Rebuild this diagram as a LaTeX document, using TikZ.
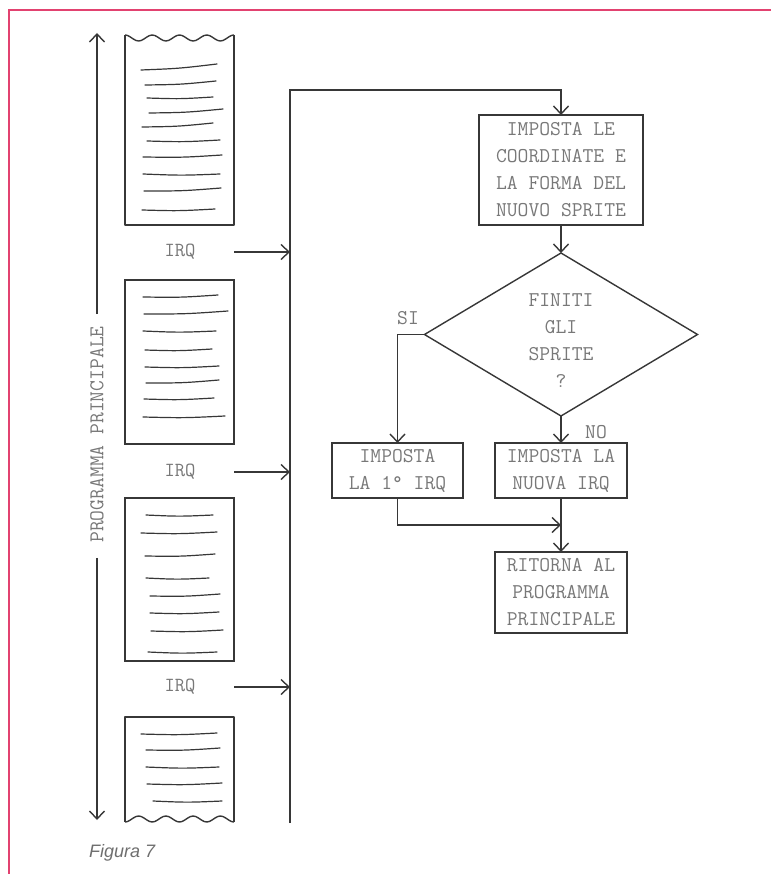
\documentclass[tikz,border=0pt]{standalone}
\usepackage{fontspec}
\usetikzlibrary{arrows.meta,shapes.geometric,calc}
\newfontfamily\capfont{Liberation Sans}
\definecolor{inkgray}{RGB}{55,55,55}
\definecolor{txtgray}{RGB}{120,120,120}
\definecolor{framered}{RGB}{226,66,112}
\definecolor{capgray}{RGB}{110,110,110}

\begin{document}
\begin{tikzpicture}[x=1pt, y=-1pt,
    >={Straight Barb[length=8pt,width=15pt]},
    every node/.style={font=\ttfamily\fontsize{21}{27}\selectfont, text=txtgray},
    ink/.style={inkgray, line width=1.4pt},
    page/.style={minimum width=109pt, inner sep=0pt, outer sep=0pt},
    procbox/.style={draw=inkgray, line width=1.4pt, align=center, inner sep=0pt, outer sep=0pt},
    decision/.style={diamond, draw=inkgray, line width=1.4pt, inner sep=0pt, outer sep=0pt,
                     minimum width=273pt, minimum height=163pt}]
  \useasboundingbox (0,0) rectangle (770,874);
  % --- red frame of the figure ---
  \draw[framered, line width=2.6pt] (9,880) -- (9,10) -- (775,10);

  % --- main program: four pages of code ---
  \node[page, minimum height=190pt] (doc1) at (179.5,130) {};
  \node[page, minimum height=164pt, draw=inkgray, line width=1.4pt] (doc2) at (179.5,362) {};
  \node[page, minimum height=163pt, draw=inkgray, line width=1.4pt] (doc3) at (179.5,579.5) {};
  \node[page, minimum height=105pt] (doc4) at (179.5,769.5) {};
  % torn edges (top of first page, bottom of last page)
  \draw[ink, line join=round] (doc1.north west) -- (doc1.south west) -- (doc1.south east) -- (doc1.north east);
  \draw[ink] plot[smooth, domain=0:109, samples=41] ({125+\x},{38-3*cos(\x/27.25*360)});
  \draw[ink, line join=round] (doc4.south west) -- (doc4.north west) -- (doc4.north east) -- (doc4.south east);
  \draw[ink] plot[smooth, domain=0:109, samples=41] ({125+\x},{819+3*cos(\x/27.25*360)});
  % scribbled code lines
  \foreach \xa/\ya/\xb/\yb in {141/70/217/64, 145/85/216/81, 147/98/213/97, 149/113/223/109,
                               142/127/213/123, 147/141/220/140, 143/157/222/155, 143/174/220/174,
                               144/191/221/188, 142/210/215/209,
                               143/297/218/295, 144/314/228/311, 143/331/216/331, 145/350/212/349,
                               145/367/219/366, 146/383/219/380, 144/399/214/398, 143/417/225/416,
                               146/515/213/515, 141/533/217/532, 145/556/215/554, 146/578/209/578,
                               150/596/220/594, 150/613/219/612, 151/631/223/630, 148/652/217/652,
                               141/734/217/733, 146/750/220/748, 146/767/219/767, 147/784/222/783,
                               153/801/222/801}{
    \draw[ink, line width=1.2pt, line cap=round]
      (\xa,\ya) .. controls ({(\xa+\xb)/2},{(\ya+\yb)/2+1.5}) .. (\xb,\yb);
  }

  % --- time axis of the main program ---
  \coordinate (ptop) at (97,33);
  \coordinate (pbot) at (97,820);
  \node[rotate=90, inner sep=0pt] (prog) at (97,434.5) {PROGRAMMA PRINCIPALE};
  \draw[ink, ->, shorten <=12pt] (prog.east) -- (ptop);
  \draw[ink, ->, shorten <=15pt] (prog.west) -- (pbot);

  % --- interrupt requests ---
  \node[font=\ttfamily\fontsize{20}{22}\selectfont] (irq1) at (180,252) {IRQ};
  \node[font=\ttfamily\fontsize{20}{22}\selectfont] (irq2) at (180,472) {IRQ};
  \node[font=\ttfamily\fontsize{20}{22}\selectfont] (irq3) at (180,687) {IRQ};
  \coordinate (bus) at (290,823);
  \coordinate (bustop) at (290,90);

  % --- interrupt routine ---
  \node[procbox, minimum width=164pt, minimum height=110pt] (setspr) at (561,170)
    {IMPOSTA LE\\COORDINATE E\\LA FORMA DEL\\NUOVO SPRITE};
  \node[decision] (done) at (561,334.5) {};
  \node[align=center, inner sep=0pt] (donetxt) at (561,341) {FINITI\\GLI\\SPRITE\\?};
  \node[procbox, minimum width=131pt, minimum height=55pt] (first) at (397.5,470.5)
    {IMPOSTA\\LA 1\textdegree{} IRQ};
  \node[procbox, minimum width=132pt, minimum height=55pt] (next) at (561,470.5)
    {IMPOSTA LA\\NUOVA IRQ};
  \node[procbox, minimum width=132pt, minimum height=81pt] (back) at (561,592.5)
    {RITORNA AL\\PROGRAMMA\\PRINCIPALE};
  \node (si) at (408,318) {SI};
  \node (no) at (596,432) {NO};
  \coordinate (join) at ($(next.south)!0.5!(back.north)$);

  % --- connectors ---
  \draw[ink, ->] (bus) -- (bustop) -| (setspr.north);
  \foreach \d/\i in {doc1/irq1, doc2/irq2, doc3/irq3}{
    \draw[ink, ->] (\d.east |- \i) -- (bus |- \i);
  }
  \draw[ink, ->] (setspr) -- (done);
  \draw[ink, ->] (done.west) -| (first.north);
  \draw[ink, ->] (done.south) -- (next.north);
  \draw[ink, ->] (first.south) |- (join);
  \draw[ink, ->] (next) -- (back);

  % --- caption ---
  \node[font=\capfont\itshape\fontsize{18}{22}\selectfont, text=capgray, anchor=west, inner sep=0pt]
    (fig) at (89,853) {Figura 7};
\end{tikzpicture}
\end{document}
